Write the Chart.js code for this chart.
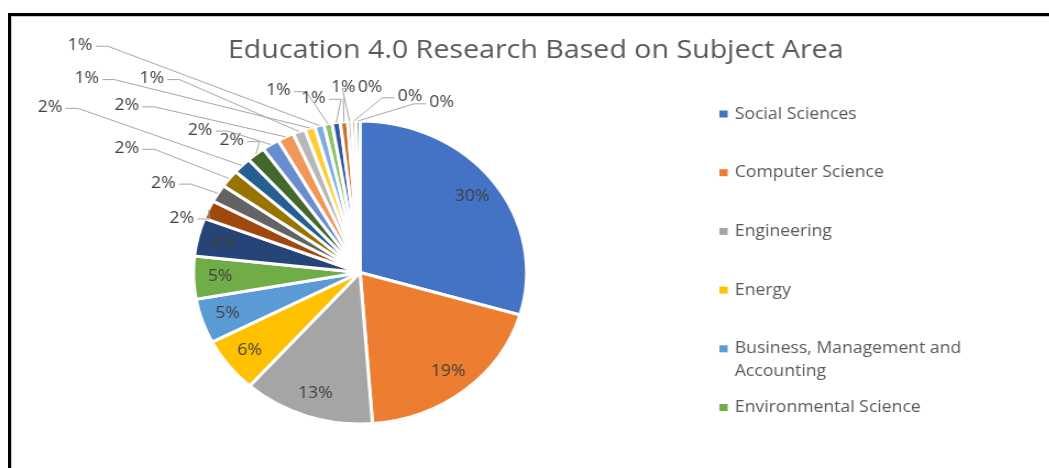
<!DOCTYPE html>
<html>
<head>
<meta charset="utf-8">
<script src="https://cdn.jsdelivr.net/npm/chart.js@4.4.1/dist/chart.umd.min.js"></script>
<style>
  html, body { margin: 0; padding: 0; background: #fff; overflow: hidden; }
  #frame {
    position: absolute; left: 8px; top: 13px; width: 1100px; height: 500px;
    border-top: 3px solid #000; border-left: 3px solid #000;
    box-shadow: inset 1px 1px 0 #c8c8c8;
  }
  /* the original picture is stretched sideways, so the canvas is too */
  #wrap {
    position: absolute; left: 0; top: 0; width: 954px; height: 468px;
    transform: scaleX(1.1); transform-origin: 0 0;
  }
</style>
</head>
<body>
<div id="frame"></div>
<div id="wrap"><canvas id="pie"></canvas></div>
<script>
const chartTitle = 'Education 4.0 Research Based on Subject Area';

const categories = [
  'Social Sciences', 'Computer Science', 'Engineering', 'Energy',
  'Business, Management and Accounting', 'Environmental Science',
  'Subject 7', 'Subject 8', 'Subject 9', 'Subject 10', 'Subject 11',
  'Subject 12', 'Subject 13', 'Subject 14', 'Subject 15', 'Subject 16',
  'Subject 17', 'Subject 18', 'Subject 19', 'Subject 20', 'Subject 21',
  'Subject 22', 'Subject 23'
];

// share of papers per subject area (%)
const shares = [
  29.7, 19.4, 12.8, 5.9, 4.8, 4.6, 4.1,
  2.0, 1.9, 1.9, 1.8, 1.8, 1.7, 1.6,
  1.2, 1.0, 0.9, 0.8, 0.8, 0.7,
  0.4, 0.4, 0.4
];

const sliceColors = [
  '#4472C4', '#ED7D31', '#A5A5A5', '#FFC000', '#5B9BD5', '#70AD47',
  '#264478', '#9E480E', '#636363', '#997300', '#255E91', '#43682B',
  '#698ED0', '#F1975A', '#B7B7B7', '#FFCD33', '#7CAFDD', '#8CC168',
  '#335AA1', '#D26A23', '#7C7C7C', '#BF9000', '#2E75B6'
];

// only the first few subjects are listed in the legend
const legendCount = 6;

// label spots for the thin slices, in pie radii from the centre (x right, y down)
const outsideSpots = {
  7: [-1.07, -0.36], 8: [-1.18, -0.59], 9: [-1.40, -0.82], 10: [-1.86, -1.09],
  11: [-0.77, -0.87], 12: [-0.96, -0.94], 13: [-1.40, -1.10], 14: [-1.25, -1.28],
  15: [-1.64, -1.28], 16: [-1.68, -1.50], 17: [-0.49, -1.20], 18: [-0.28, -1.15],
  19: [-0.10, -1.22], 20: [0.06, -1.22], 21: [0.30, -1.16], 22: [0.49, -1.12]
};

const FONT = '"Open Sans", "DejaVu Sans", sans-serif';

function wrapText(ctx, text, maxWidth) {
  let words = text.split(' ');
  let lines = [];
  let line = '';
  for (let w of words) {
    let test = line ? line + ' ' + w : w;
    if (ctx.measureText(test).width > maxWidth && line) {
      lines.push(line);
      line = w;
    } else {
      line = test;
    }
  }
  lines.push(line);
  return lines;
}

const decor = {
  id: 'decor',
  afterDraw(chart) {
    const ctx = chart.ctx;
    const arcs = chart.getDatasetMeta(0).data;
    const total = shares.reduce((a, b) => a + b, 0);

    ctx.save();

    // title
    ctx.fillStyle = '#595959';
    ctx.font = '26px ' + FONT;
    ctx.textAlign = 'center';
    ctx.textBaseline = 'middle';
    ctx.fillText(chartTitle, 487, 51);

    // data labels
    ctx.font = '16px ' + FONT;
    ctx.strokeStyle = '#A6A6A6';
    ctx.lineWidth = 1;
    arcs.forEach((arc, i) => {
      const p = arc.getProps(['x', 'y', 'startAngle', 'endAngle', 'outerRadius']);
      const r = p.outerRadius;
      const mid = (p.startAngle + p.endAngle) / 2;
      const txt = Math.round(shares[i] / total * 100) + '%';
      const spot = outsideSpots[i];

      if (spot) {
        const lx = p.x + spot[0] * r;
        const ly = p.y + spot[1] * r;
        const w = ctx.measureText(txt).width;
        const tx = p.x + Math.cos(mid) * r;
        const ty = p.y + Math.sin(mid) * r;
        let sx, sy, ex;
        if (tx > lx + w / 2 + 4) {
          sx = lx + w / 2 + 3; ex = sx + 11; sy = ly + 1;
        } else if (tx < lx - w / 2 - 4) {
          sx = lx - w / 2 - 3; ex = sx - 11; sy = ly + 1;
        } else {
          sx = lx; ex = lx; sy = ly + 10;
        }
        ctx.beginPath();
        ctx.moveTo(sx, sy);
        ctx.lineTo(ex, sy);
        ctx.lineTo(tx, ty);
        ctx.stroke();
        ctx.fillStyle = '#404040';
        ctx.fillText(txt, lx, ly);
      } else {
        const k = 0.84;
        ctx.fillStyle = '#404040';
        ctx.fillText(txt, p.x + Math.cos(mid) * r * k, p.y + Math.sin(mid) * r * k);
      }
    });

    // legend
    ctx.font = '16px ' + FONT;
    ctx.textAlign = 'left';
    let y = 114;
    for (let i = 0; i < legendCount; i++) {
      ctx.fillStyle = sliceColors[i];
      ctx.fillRect(654, y - 3.5, 7.5, 7);
      ctx.fillStyle = '#595959';
      let lines = wrapText(ctx, categories[i], 215);
      lines.forEach((ln, j) => ctx.fillText(ln, 668, y + j * 23));
      y += 58.7;
    }

    ctx.restore();
  }
};

new Chart(document.getElementById('pie'), {
  type: 'pie',
  data: {
    labels: categories,
    datasets: [{
      data: shares,
      backgroundColor: sliceColors,
      borderColor: '#ffffff',
      borderWidth: 3,
      hoverOffset: 0
    }]
  },
  options: {
    responsive: true,
    maintainAspectRatio: false,
    animation: false,
    events: [],
    layout: {
      padding: { left: 174.3, right: 473.7, top: 119.5, bottom: 42.5 }
    },
    plugins: {
      legend: { display: false },
      title: { display: false },
      tooltip: { enabled: false }
    }
  },
  plugins: [decor]
});
</script>
</body>
</html>
